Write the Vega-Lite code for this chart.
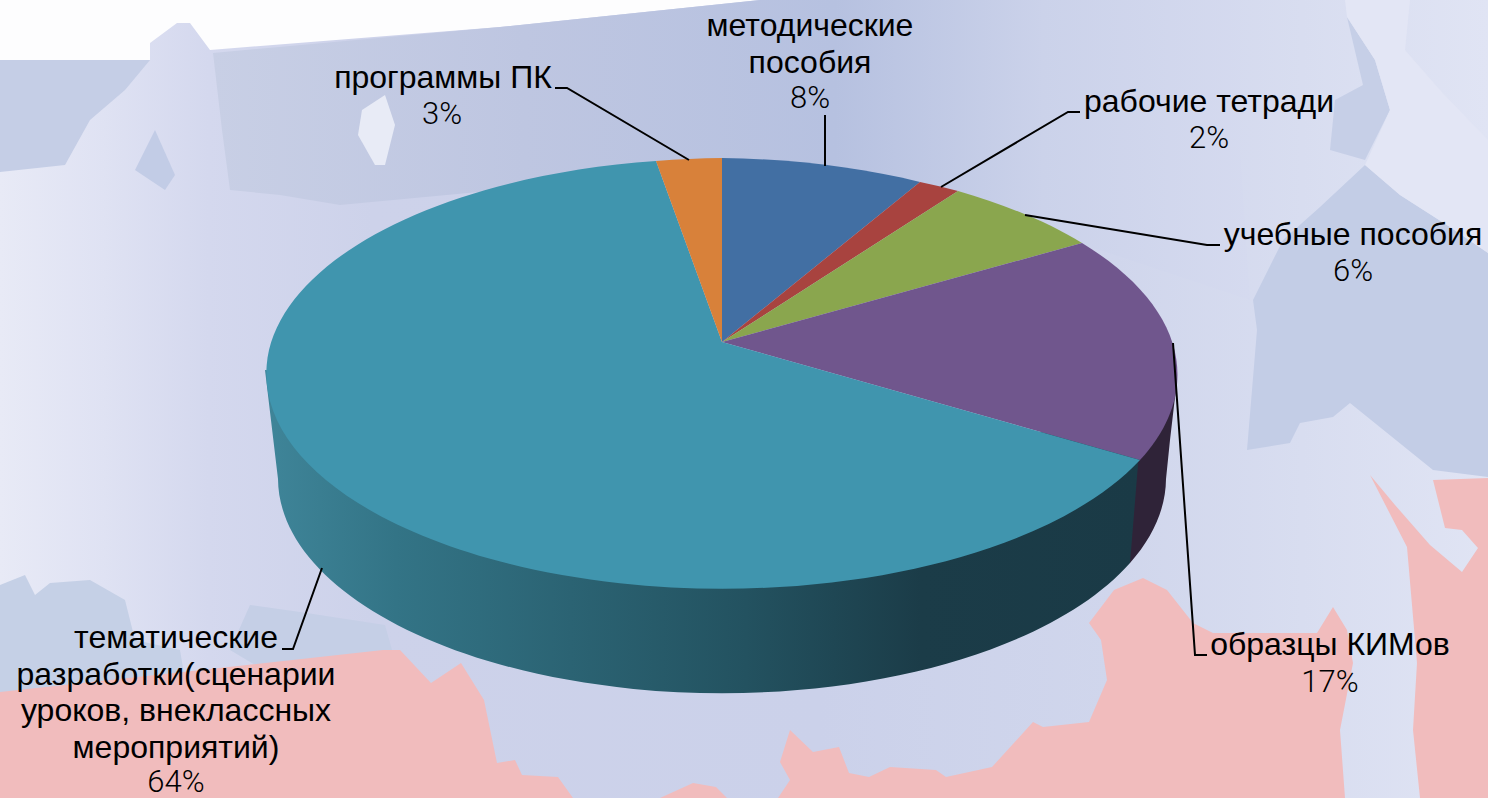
{
"$schema":"https://vega.github.io/schema/vega-lite/v6.json",
"width":1488,"height":798,"padding":0,"autosize":{"type":"none"},
"background":"#fdfdfe",
"config":{"view":{"stroke":null}},
"datasets":{"slices":[
{"category":"методические пособия","label":["методические","пособия"],"value":0.08},
{"category":"рабочие тетради","label":["рабочие тетради"],"value":0.02},
{"category":"учебные пособия","label":["учебные пособия"],"value":0.06},
{"category":"образцы КИМов","label":["образцы КИМов"],"value":0.17},
{"category":"тематические разработки","label":["тематические","разработки(сценарии","уроков, внеклассных","мероприятий)"],"value":0.64},
{"category":"программы ПК","label":["программы ПК"],"value":0.03}
]},
"resolve":{"scale":{"x":"independent","y":"independent","shape":"independent","fill":"independent","color":"independent"}},
"layer":[
{"data":{"values":[{"part":"base"}]},
 "mark":{"type":"point","filled":true,"size":4,"opacity":1,"strokeWidth":0,"fill":{"gradient":"linear","x1":0,"x2":1,"y1":0,"y2":0,"stops":[{"offset":0,"color":"#e8eaf6"},{"offset":0.07,"color":"#dfe2f3"},{"offset":0.14,"color":"#d4d8ee"},{"offset":0.25,"color":"#cdd2ea"},{"offset":0.55,"color":"#cbd1ea"},{"offset":0.75,"color":"#d0d6ec"},{"offset":1,"color":"#e0e4f4"}]}},
 "encoding":{"x":{"datum":0,"type":"quantitative","scale":{"domain":[0,1488],"range":[0,1488]},"axis":null},"y":{"datum":0,"type":"quantitative","scale":{"domain":[0,798],"range":[0,798]},"axis":null},
 "shape":{"value":"M0,60L150,60L150,43L177,23L190,23L210,50L500,27L760,0L1488,0L1488,798L0,798Z"}}},
{"data":{"values":[{"part":"north sea"}]},
 "mark":{"type":"point","filled":true,"size":4,"opacity":1,"strokeWidth":0,"fill":{"gradient":"linear","x1":0,"x2":1,"y1":0,"y2":0,"stops":[{"offset":0,"color":"#c8cfe5"},{"offset":0.3,"color":"#bec6e1"},{"offset":0.6,"color":"#b6c1e0"},{"offset":0.8,"color":"#cbd2ea"},{"offset":1,"color":"#d5daef"}]}},
 "encoding":{"x":{"datum":0,"type":"quantitative","scale":{"domain":[0,1488],"range":[0,1488]},"axis":null},"y":{"datum":0,"type":"quantitative","scale":{"domain":[0,798],"range":[0,798]},"axis":null},
 "shape":{"value":"M213,53L500,27L760,0L1240,0L1240,150L1250,300L1100,250L722,170L500,190L340,205L280,195L230,190L222,130Z"}}},
{"data":{"values":[{"region":"barents"},{"region":"lake"},{"region":"okhotsk"},{"region":"okhotsk bay"},{"region":"south west a"},{"region":"south west b"},{"region":"light strip"},{"region":"island"},{"region":"pink west"},{"region":"pink east"}]},
 "mark":{"type":"point","filled":true,"size":4,"opacity":1,"strokeWidth":0},
 "encoding":{"x":{"datum":0,"type":"quantitative","scale":{"domain":[0,1488],"range":[0,1488]},"axis":null},"y":{"datum":0,"type":"quantitative","scale":{"domain":[0,798],"range":[0,798]},"axis":null},
 "fill":{"field":"region","type":"nominal","legend":null,"scale":{"domain":["barents","lake","okhotsk","okhotsk bay","south west a","south west b","light strip","island","pink west","pink east"],"range":["#c5cee6","#c2cce6","#c3cde6","#c6cfe7","#c5d0e6","#c5cfe6","#e3e6f5","#e8ebf6","#f1bcbd","#f1bcbd"]}},
 "shape":{"field":"region","type":"nominal","legend":null,"scale":{"domain":["barents","lake","okhotsk","okhotsk bay","south west a","south west b","light strip","island","pink west","pink east"],"range":[
 "M0,60L150,60L125,90L90,120L65,165L0,172Z",
 "M155,130L175,175L165,190L135,170Z",
 "M1253,300L1283,240L1320,207L1365,165L1400,195L1450,227L1488,253L1488,477L1433,470L1350,403L1333,417L1300,423L1290,443L1247,450L1257,330Z",
 "M1347,17L1375,60L1390,110L1365,160L1330,150L1335,100L1363,85Z",
 "M0,585L25,575L35,595L50,583L90,580L125,600L135,640L180,650L185,680L0,700Z",
 "M250,605L300,612L385,625L392,650L260,668L230,650Z",
 "M1345,0L1410,0L1405,50L1440,90L1488,140L1488,253L1450,227L1400,195L1365,165L1390,110L1375,60L1347,17Z",
 "M362,110L385,95L395,125L385,165L375,165L358,135Z",
 "M0,692L383,650L400,650L431,683L461,663L484,700L497,763L515,760L522,775L558,777L573,798L660,798L693,783L716,787L727,798L778,798L790,780L780,762L790,730L813,752L839,747L849,773L869,777L890,767L936,770L946,777L992,767L1033,722L1043,727L1089,722L1107,680L1101,640L1089,623L1114,590L1143,578L1167,590L1193,623L1213,633L1317,633L1333,607L1347,630L1353,663L1340,730L1345,798L0,798Z",
 "M1370,475L1395,505L1430,545L1462,572L1478,548L1462,530L1445,528L1433,480L1488,478L1488,798L1420,798L1413,730L1417,663L1407,547Z"
 ]}}}},
{"data":{"name":"slices"},"transform":[{"filter":"datum.category==='образцы КИМов'"}],
 "mark":{"type":"point","filled":true,"size":4,"opacity":1,"strokeWidth":0,"fill":"#2f2338"},
 "encoding":{"x":{"datum":0,"type":"quantitative","scale":{"domain":[0,1488],"range":[0,1488]},"axis":null},"y":{"datum":0,"type":"quantitative","scale":{"domain":[0,798],"range":[0,798]},"axis":null},
 "shape":{"value":"M1130,440L1177,380L1170,440L1166,479A444,215 0 0 1 1130,563Z"}}},
{"data":{"name":"slices"},"transform":[{"filter":"datum.value>0.5"}],
 "mark":{"type":"point","filled":true,"size":4,"opacity":1,"strokeWidth":0,"fill":{"gradient":"linear","x1":0,"x2":1,"y1":0,"y2":0,"stops":[{"offset":0,"color":"#3f8599"},{"offset":0.15,"color":"#337486"},{"offset":0.35,"color":"#2b6373"},{"offset":0.55,"color":"#235260"},{"offset":0.75,"color":"#1b3c48"},{"offset":1,"color":"#1a3a46"}]}},
 "encoding":{"x":{"datum":0,"type":"quantitative","scale":{"domain":[0,1488],"range":[0,1488]},"axis":null},"y":{"datum":0,"type":"quantitative","scale":{"domain":[0,798],"range":[0,798]},"axis":null},
 "shape":{"value":"M265,370L278,479A444,215 0 0 0 1130,563L1140,440L265,370Z"}}},
{"data":{"name":"slices"},
 "mark":{"type":"point","filled":true,"size":4,"opacity":1,"strokeWidth":0},
 "encoding":{"x":{"datum":0,"type":"quantitative","scale":{"domain":[0,1488],"range":[0,1488]},"axis":null},"y":{"datum":0,"type":"quantitative","scale":{"domain":[0,798],"range":[0,798]},"axis":null},
 "fill":{"field":"category","type":"nominal","legend":null,"scale":{"domain":["методические пособия","рабочие тетради","учебные пособия","образцы КИМов","тематические разработки","программы ПК"],"range":["#426fa3","#a8433f","#8aa64e","#70568d","#4095ae","#d8813a"]}},
 "shape":{"field":"category","type":"nominal","legend":null,"scale":{"domain":["методические пособия","рабочие тетради","учебные пособия","образцы КИМов","тематические разработки","программы ПК"],"range":[
 "M722,342L722,158A456,215 0 0 1 920,182Z",
 "M722,342L920,182A456,215 0 0 1 958,191Z",
 "M722,342L958,191A456,215 0 0 1 1082,243Z",
 "M722,342L1082,243A456,215 0 0 1 1140,460Z",
 "M722,342L1140,460A456,215 0 1 1 656,161Z",
 "M722,342L656,161A456,215 0 0 1 722,158Z"
 ]}}}},
{"data":{"name":"slices"},
 "mark":{"type":"point","filled":false,"size":4,"opacity":1,"stroke":"#000000","strokeWidth":2},
 "encoding":{"x":{"datum":0,"type":"quantitative","scale":{"domain":[0,1488],"range":[0,1488]},"axis":null},"y":{"datum":0,"type":"quantitative","scale":{"domain":[0,798],"range":[0,798]},"axis":null},
 "shape":{"field":"category","type":"nominal","legend":null,"scale":{"domain":["методические пособия","рабочие тетради","учебные пособия","образцы КИМов","тематические разработки","программы ПК"],"range":[
 "M825,115L825,166",
 "M1080,112L1068,112L941,187",
 "M1220,245L1207,245L1025,215",
 "M1207,655L1195,655L1173,343",
 "M282,649L293,649L322,568",
 "M555,88L567,88L689,160"
 ]}}}},
{"data":{"name":"slices"},
 "mark":{"type":"text","font":"Liberation Sans","fontSize":32,"color":"#000000","align":"center","baseline":"alphabetic","lineHeight":36.5},
 "encoding":{"text":{"field":"label"},
 "x":{"field":"value","type":"quantitative","axis":null,"scale":{"zero":false,"nice":false,"domain":[0.02,0.03,0.06,0.08,0.17,0.64],"range":[1209,443,1353,810,1330,176]}},
 "y":{"field":"value","type":"quantitative","axis":null,"scale":{"zero":false,"nice":false,"domain":[0.02,0.03,0.06,0.08,0.17,0.64],"range":[112,88,245,36,655,648]}}}},
{"data":{"name":"slices"},
 "mark":{"type":"text","font":"Roboto","fontWeight":300,"fontSize":31,"color":"#000000","align":"center","baseline":"alphabetic"},
 "encoding":{"text":{"field":"value","type":"quantitative","format":".0%"},
 "x":{"field":"value","type":"quantitative","axis":null,"scale":{"zero":false,"nice":false,"domain":[0.02,0.03,0.06,0.08,0.17,0.64],"range":[1209,442,1353,810,1330,176]}},
 "y":{"field":"value","type":"quantitative","axis":null,"scale":{"zero":false,"nice":false,"domain":[0.02,0.03,0.06,0.08,0.17,0.64],"range":[148,124,281,108,692,792]}}}}
]}
